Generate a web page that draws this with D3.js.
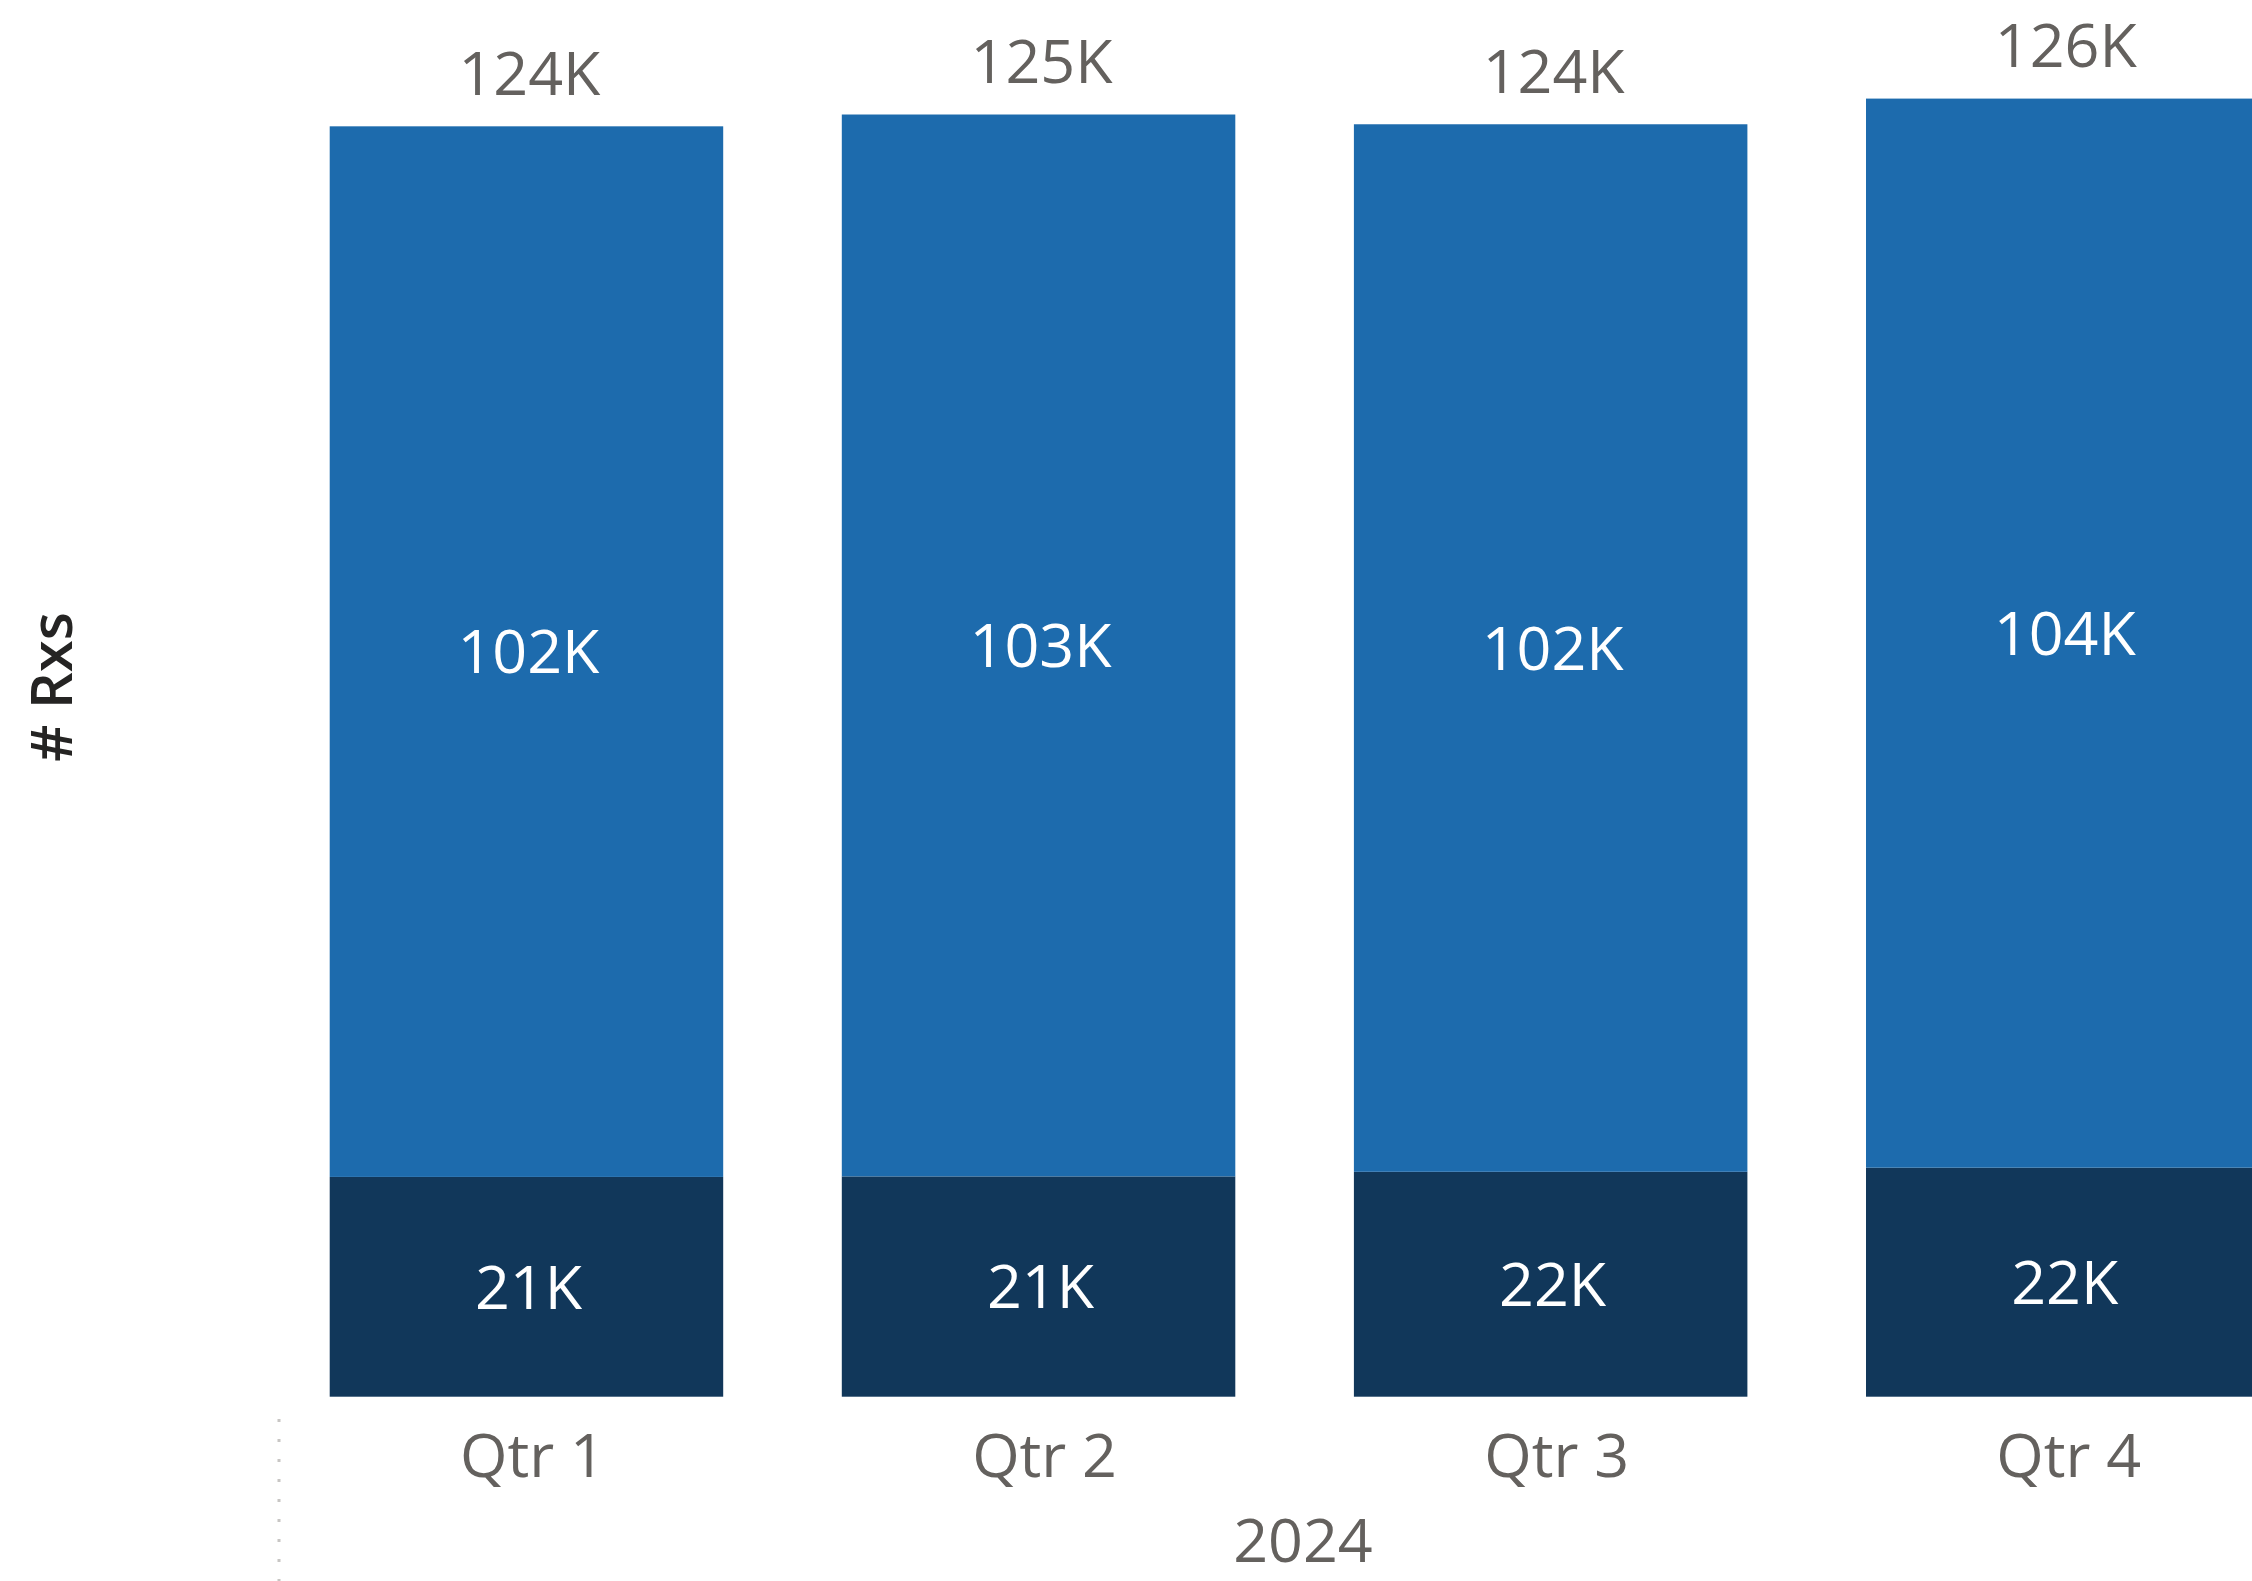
<!DOCTYPE html>
<html>
<head>
<meta charset="utf-8">
<script src="https://cdn.jsdelivr.net/npm/d3@7"></script>
<style>
  html, body { margin: 0; padding: 0; background: #ffffff; overflow: hidden; }
  svg { display: block; }
</style>
</head>
<body>
<svg id="chart" width="2252" height="1581"></svg>
<script>
// ---- data (thousands of Rxs) ----
const quarters = ["Qtr 1", "Qtr 2", "Qtr 3", "Qtr 4"];
const yearLabel = "2024";
const darkValues = [21.4, 21.45, 21.9, 22.3];     // bottom segment
const lightValues = [102.3, 103.4, 102.0, 104.1]; // top segment
const yTitle = "# Rxs";

const W = 2252, H = 1581;
const FONT = "'Segoe UI', 'Open Sans', 'Noto Sans', sans-serif";
const FS = 61;
const colLight = "#1D6BAD";
const colDark = "#11375A";
const textGray = "#64615E";

const svg = d3.select("#chart");

const x = d3.scaleBand()
  .domain(quarters)
  .range([270.4, 2318.8])
  .paddingInner(0.2316)
  .paddingOuter(0.1158);

const y = d3.scaleLinear()
  .domain([0, 136])
  .range([1396.7, 0]);

const rows = quarters.map((q, i) => ({
  q, dark: darkValues[i], light: lightValues[i], total: darkValues[i] + lightValues[i]
}));

const fmt = v => Math.round(v) + "K";

// bars
const g = svg.append("g");
g.selectAll("rect.dark").data(rows).join("rect")
  .attr("class", "dark")
  .attr("x", d => x(d.q)).attr("width", x.bandwidth())
  .attr("y", d => y(d.dark)).attr("height", d => y(0) - y(d.dark))
  .attr("fill", colDark);

g.selectAll("rect.light").data(rows).join("rect")
  .attr("class", "light")
  .attr("x", d => x(d.q)).attr("width", x.bandwidth())
  .attr("y", d => y(d.total)).attr("height", d => y(d.dark) - y(d.total))
  .attr("fill", colLight);

// inner labels
const capOff = FS * 0.357;
g.selectAll("text.dl").data(rows).join("text")
  .attr("class", "dl")
  .attr("x", d => x(d.q) + x.bandwidth() / 2 + 2)
  .attr("y", d => (y(d.dark) + y(0)) / 2 + capOff)
  .attr("text-anchor", "middle")
  .attr("fill", "#ffffff")
  .style("font-family", FONT).style("font-size", FS + "px")
  .text(d => fmt(d.dark));

g.selectAll("text.ll").data(rows).join("text")
  .attr("class", "ll")
  .attr("x", d => x(d.q) + x.bandwidth() / 2 + 2)
  .attr("y", d => (y(d.total) + y(d.dark)) / 2 + capOff)
  .attr("text-anchor", "middle")
  .attr("fill", "#ffffff")
  .style("font-family", FONT).style("font-size", FS + "px")
  .text(d => fmt(d.light));

// total labels
g.selectAll("text.tl").data(rows).join("text")
  .attr("class", "tl")
  .attr("x", d => x(d.q) + x.bandwidth() / 2 + 3)
  .attr("y", d => y(d.total) - 31.5)
  .attr("text-anchor", "middle")
  .attr("fill", textGray)
  .style("font-family", FONT).style("font-size", FS + "px")
  .text(d => fmt(d.total));

// x axis (category labels)
const xAxis = d3.axisBottom(x).tickSize(0).tickPadding(0);
const ax = svg.append("g").attr("transform", "translate(6,1477)").call(xAxis);
ax.select(".domain").remove();
ax.selectAll("text")
  .attr("y", 0).attr("dy", 0)
  .attr("fill", textGray)
  .style("font-family", FONT).style("font-size", FS + "px");

// year label
svg.append("text")
  .attr("x", 1303).attr("y", 1562)
  .attr("text-anchor", "middle")
  .attr("fill", textGray)
  .style("font-family", FONT).style("font-size", FS + "px")
  .text(yearLabel);

// hierarchy separator (dotted)
svg.append("line")
  .attr("x1", 279).attr("x2", 279)
  .attr("y1", 1419).attr("y2", 1581)
  .attr("stroke", "#C8C6C4")
  .attr("stroke-width", 3)
  .attr("stroke-dasharray", "3,17");

// y title
svg.append("text")
  .attr("transform", "translate(71.5,687) rotate(-90)")
  .attr("text-anchor", "middle")
  .attr("fill", "#252423")
  .style("font-family", FONT).style("font-size", "58px").style("font-weight", 600)
  .text(yTitle);
</script>
</body>
</html>
